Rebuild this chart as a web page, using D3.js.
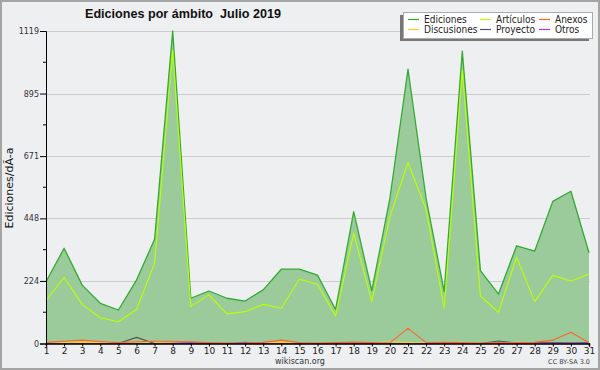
<!DOCTYPE html>
<html>
<head>
<meta charset="utf-8">
<script src="https://cdn.jsdelivr.net/npm/d3@7"></script>
<style>
  body { margin: 0; background: #f0f0f0; }
  text { font-family: "DejaVu Sans", sans-serif; }
</style>
</head>
<body>
<script>

// days of the month
var days = d3.range(1, 32);

// edits per day, by namespace
var ediciones   = [221, 341, 209, 144, 120, 227, 373, 1119, 162, 188, 162, 152, 192, 266, 266, 245, 122, 472, 189, 520, 982, 520, 186, 1047, 261, 177, 350, 331, 509, 545, 325];
var articulos   = [153, 237, 140, 92, 78, 122, 287, 1050, 132, 174, 106, 114, 140, 126, 230, 212, 98, 395, 150, 454, 648, 480, 126, 979, 170, 112, 309, 150, 244, 224, 249];
var anexos      = [4, 8, 12, 7, 3, 6, 8, 8, 6, 3, 2, 2, 4, 12, 3, 2, 3, 5, 3, 2, 54, 3, 4, 3, 2, 3, 3, 4, 12, 40, 3];
var discusiones = [2, 3, 5, 4, 2, 6, 4, 3, 2, 1, 1, 1, 2, 5, 2, 1, 1, 3, 2, 6, 4, 2, 4, 4, 2, 1, 4, 3, 2, 2, 2];
var proyecto    = [0, 0, 0, 0, 0, 22, 0, 0, 0, 0, 0, 0, 0, 0, 0, 0, 0, 0, 0, 0, 0, 0, 0, 0, 0, 9, 2, 3, 3, 2, 3];
var otros       = [0, 0, 0, 0, 0, 0, 0, 1, 3, 1, 0, 4, 0, 0, 0, 0, 0, 0, 0, 0, 0, 0, 0, 0, 0, 0, 1, 2, 2, 2, 2];

// y tick labels
var yTicks = [0, 224, 448, 671, 895, 1119];
var yMax = 1119;

var series = [
  { name: "Ediciones",   values: ediciones,   color: "#33aa33" },
  { name: "Artículos",   values: articulos,   color: "#bbff00" },
  { name: "Anexos",      values: anexos,      color: "#ff6622" },
  { name: "Discusiones", values: discusiones, color: "#ffcc22" },
  { name: "Proyecto",    values: proyecto,    color: "#555555" },
  { name: "Otros",       values: otros,       color: "#9944ee" }
];

var W = 600, H = 370;
var mLeft = 46, mRight = 589, mTop = 31, mBottom = 343.5;   // plot box

var svg = d3.select("body").append("svg")
  .attr("width", W)
  .attr("height", H);

// background + frame
svg.append("rect")
  .attr("x", 1).attr("y", 1)
  .attr("width", W - 2).attr("height", H - 2)
  .attr("fill", "#eeeff1")
  .attr("stroke", "#a4a4a4")
  .attr("stroke-width", 2);

var x = d3.scaleLinear().domain([1, 31]).range([mLeft, mRight]);
var y = d3.scaleLinear().domain([0, yMax]).range([mBottom, mTop]);

// grid lines
svg.selectAll(".grid")
  .data(yTicks.slice(1))
  .enter().append("line")
  .attr("x1", mLeft).attr("x2", mRight + 1)
  .attr("y1", function(d){ return Math.round(y(d)) + 0.5; })
  .attr("y2", function(d){ return Math.round(y(d)) + 0.5; })
  .attr("stroke", "#cccccc");

// main area (Ediciones)
var area = d3.area()
  .x(function(d, i){ return x(days[i]); })
  .y0(y(0))
  .y1(function(d){ return y(d); });

svg.append("path")
  .datum(ediciones)
  .attr("d", area)
  .attr("fill", "#9bcb9b");

var line = d3.line()
  .x(function(d, i){ return x(days[i]); })
  .y(function(d){ return y(d); });

// series lines, big first, small ones on top
[0, 1, 3, 4, 5, 2].forEach(function(k){
  svg.append("path")
    .datum(series[k].values)
    .attr("d", line)
    .attr("fill", "none")
    .attr("stroke", series[k].color)
    .attr("stroke-width", k == 0 ? 1.3 : 1.1)
    .attr("stroke-linejoin", "round");
});

// y axis
var yAxis = d3.axisLeft(y)
  .tickValues(yTicks)
  .tickFormat(d3.format("d"))
  .tickSize(6)
  .tickPadding(1);

var gy = svg.append("g")
  .attr("transform", "translate(" + mLeft + ",0)")
  .call(yAxis);
gy.select(".domain").attr("stroke", "#000");
gy.selectAll("text").attr("font-size", 8).attr("fill", "#333");

// minor ticks between labels
var minor = d3.pairs(yTicks).map(function(p){ return (p[0] + p[1]) / 2; });
gy.selectAll(".minor")
  .data(minor)
  .enter().append("line")
  .attr("x1", -3).attr("x2", 0)
  .attr("y1", function(d){ return y(d); })
  .attr("y2", function(d){ return y(d); })
  .attr("stroke", "#000");

// x axis
var xAxis = d3.axisBottom(x)
  .tickValues(days)
  .tickFormat(d3.format("d"))
  .tickSize(3)
  .tickPadding(1);

var gx = svg.append("g")
  .attr("transform", "translate(0," + mBottom + ")")
  .call(xAxis);
gx.select(".domain").attr("stroke", "#000").attr("stroke-width", 1.5);
gx.selectAll("text").attr("font-size", 9).attr("fill", "#222");

// title
svg.append("text")
  .attr("x", 85).attr("y", 18)
  .style("font-family", "'Liberation Sans', Arial, sans-serif")
  .attr("font-weight", "bold")
  .attr("font-size", 12.6)
  .attr("fill", "#111")
  .style("white-space", "pre")
  .text("Ediciones por ámbito  Julio 2019");

// y title
svg.append("text")
  .attr("transform", "translate(13,188) rotate(-90)")
  .attr("text-anchor", "middle")
  .attr("font-size", 11)
  .attr("fill", "#111")
  .text("Ediciones/dÃ-a");

// legend
var lg = svg.append("g");
lg.append("rect")
  .attr("x", 400).attr("y", 15)
  .attr("width", 189).attr("height", 26)
  .attr("fill", "#777");
lg.append("rect")
  .attr("x", 403.5).attr("y", 12.5)
  .attr("width", 189).attr("height", 26)
  .attr("fill", "#fff")
  .attr("stroke", "#aaa");

var colX = [408, 480, 539];
var rowY = [19.5, 29.5];
var item = lg.selectAll(".item")
  .data(series)
  .enter().append("g")
  .attr("transform", function(d, i){
    return "translate(" + colX[i % 3] + "," + rowY[Math.floor(i / 3)] + ")";
  });
item.append("line")
  .attr("x1", 0).attr("x2", 11)
  .attr("stroke", function(d){ return d.color; })
  .attr("stroke-width", 1.2);
item.append("text")
  .attr("x", 16).attr("y", 3.5)
  .attr("font-size", 10)
  .style("font-family", "'DejaVu Sans Condensed', 'DejaVu Sans', sans-serif")
  .style("font-stretch", "condensed")
  .attr("fill", "#222")
  .text(function(d){ return d.name; });

// credits
svg.append("text")
  .attr("x", 300).attr("y", 364)
  .attr("text-anchor", "middle")
  .attr("font-size", 8)
  .attr("fill", "#333")
  .text("wikiscan.org");

svg.append("text")
  .attr("x", 590).attr("y", 364)
  .attr("text-anchor", "end")
  .attr("font-size", 6.5)
  .attr("fill", "#444")
  .text("CC BY-SA 3.0");

</script>
</body>
</html>
